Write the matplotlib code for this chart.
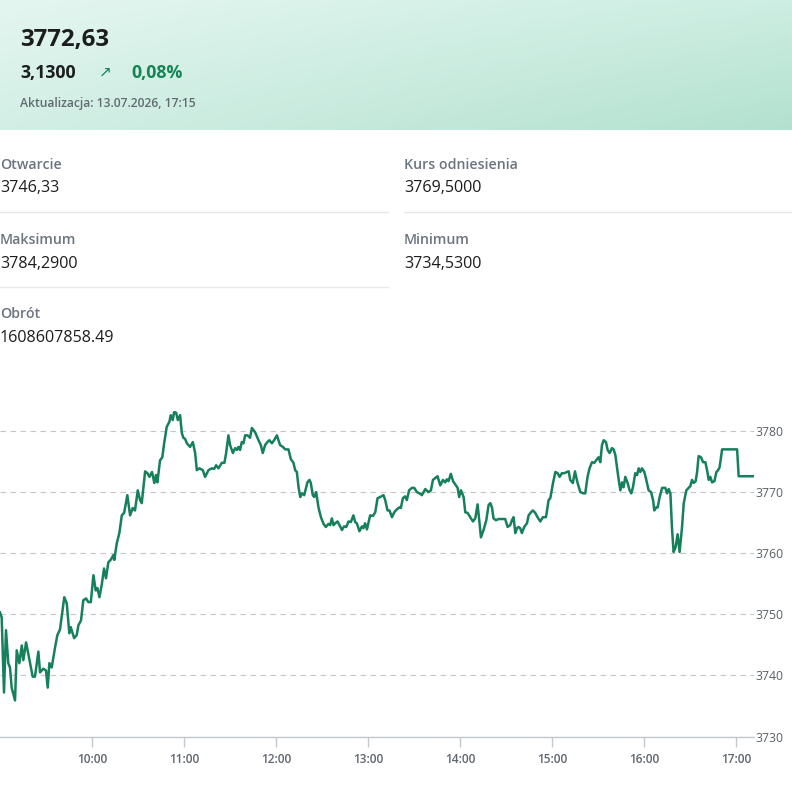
import numpy as np
import matplotlib
matplotlib.use("Agg")
import matplotlib.pyplot as plt
from matplotlib.colors import to_rgb

plt.rcParams['font.family'] = ['Open Sans', 'DejaVu Sans']

# --- data ---------------------------------------------------------------
last_price = "3772,63"
change_abs = "3,1300"
change_pct = "0,08%"
updated = "Aktualizacja: 13.07.2026, 17:15"

stat_labels = ["Otwarcie", "Kurs odniesienia", "Maksimum", "Minimum", "Obrót"]
stat_values = ["3746,33", "3769,5000", "3784,2900", "3734,5300", "1608607858.49"]

# minutes after 09:00
minutes = [
    0, 1.1, 2.6, 3.9, 5.4, 6.5, 7.6, 9.8, 10.9, 12.6, 14.2, 15.2, 17.0, 19.6,
    21.3, 22.8, 25.0, 26.1, 28.2, 30.0, 31.1, 32.2, 33.7, 35.9, 37.4, 39.1,
    41.9, 43.5, 45.2, 46.1, 48.3, 50.0, 51.1, 52.8, 54.3, 56.1, 57.6, 59.2,
    60.9, 62.4, 63.5, 64.8, 66.3, 67.8, 69.1, 70.6, 72.4, 73.9, 74.5, 76.1,
    77.8, 79.4, 80.9, 83.0, 84.8, 86.5, 88.0, 89.8, 91.3, 92.4, 94.6, 96.1,
    97.4, 99.1, 100.6, 101.7, 102.6, 104.3, 105.8, 107.0, 108.7, 110.4, 111.3,
    112.6, 113.5, 114.8, 115.9, 117.4, 118.5, 119.5, 120.7, 121.8, 122.8,
    123.9, 125.7, 127.2, 128.3, 130.0, 132.2, 133.7, 135.9, 138.1, 139.6,
    140.9, 142.4, 144.6, 146.3, 147.4, 148.9, 150.0, 151.8, 153.3, 154.4,
    155.4, 156.5, 157.6, 158.7, 159.8, 161.3, 163.0, 164.2, 166.3, 168.5,
    170.0, 171.3, 172.8, 174.3, 175.6, 177.2, 178.7, 180.5, 181.5, 182.6,
    184.4, 185.9, 188.0, 189.6, 191.3, 192.4, 193.5, 194.6, 195.7, 196.8,
    198.3, 199.6, 200.4, 201.7, 202.6, 203.9, 204.8, 206.1, 207.6, 209.2,
    210.9, 212.4, 214.1, 215.2, 216.3, 217.4, 218.5, 220.0, 221.3, 222.9,
    224.3, 225.7, 227.2, 228.7, 230.4, 231.5, 232.6, 234.3, 235.9, 236.9,
    238.0, 239.2, 241.3, 243.1, 244.6, 246.1, 247.8, 250.0, 251.1, 252.6,
    253.9, 255.5, 257.0, 258.7, 260.4, 261.3, 262.6, 264.1, 265.2, 266.7,
    268.5, 270.0, 271.8, 273.5, 275.0, 277.2, 279.3, 280.9, 282.2, 283.7,
    285.2, 287.0, 288.7, 290.2, 291.3, 292.4, 293.9, 295.3, 296.7, 298.3,
    299.3, 300.5, 302.2, 303.3, 304.8, 306.5, 308.3, 309.8, 311.3, 312.4,
    313.5, 315.2, 317.0, 318.5, 319.6, 320.7, 321.7, 323.3, 325.0, 327.2,
    329.3, 330.9, 332.6, 333.7, 334.8, 335.9, 337.0, 338.0, 339.1, 340.2,
    341.7, 343.5, 344.6, 346.1, 347.4, 348.9, 350.4, 352.2, 353.9, 355.9,
    357.6, 358.7, 360.5, 362.0, 363.5, 364.8, 366.3, 367.8, 369.6, 370.7,
    371.7, 373.4, 374.8, 376.5, 378.3, 380.4, 381.5, 383.0, 384.3, 385.9,
    387.4, 389.2, 390.2, 391.3, 392.4, 393.5, 395.0, 396.1, 397.4, 398.9,
    400.0, 401.1, 402.2, 403.3, 404.4, 405.5, 406.5, 407.6, 409.1, 410.4,
    411.5, 412.6, 414.1, 415.3, 416.3, 417.4, 418.5, 420.0, 421.3, 422.8,
    424.4, 425.7, 426.5, 427.8, 428.7, 430.0, 431.6, 433.7, 434.8, 435.9,
    437.0, 438.1, 439.1, 440.4, 441.7, 443.0, 444.6, 445.7, 447.4, 448.9,
    450.0, 451.1, 452.2, 453.5, 454.4, 455.4, 457.0, 458.3, 459.8, 460.9,
    462.0, 463.0, 464.2, 465.7, 467.0, 468.1, 469.1, 470.7, 480.5, 481.5,
    491.3,
]
prices = [
    3750.3, 3749.5, 3737.2, 3747.4, 3742.0, 3741.3, 3738.0, 3735.9, 3744.1,
    3742.0, 3744.9, 3742.5, 3745.4, 3742.0, 3739.8, 3739.8, 3743.9, 3740.5,
    3741.1, 3740.8, 3738.0, 3742.0, 3741.3, 3744.6, 3746.6, 3747.5, 3752.8,
    3751.8, 3746.9, 3747.9, 3746.1, 3746.6, 3748.2, 3749.0, 3752.3, 3752.6,
    3752.0, 3752.0, 3756.4, 3753.9, 3754.3, 3752.8, 3754.8, 3757.5, 3755.9,
    3758.5, 3759.0, 3759.7, 3758.9, 3761.6, 3763.3, 3766.2, 3766.6, 3769.5,
    3766.2, 3767.4, 3767.0, 3770.3, 3768.7, 3768.2, 3773.4, 3773.1, 3772.5,
    3773.3, 3771.5, 3772.8, 3771.6, 3775.2, 3775.7, 3778.0, 3780.7, 3781.5,
    3782.6, 3781.8, 3783.1, 3783.0, 3781.8, 3782.6, 3779.7, 3778.9, 3778.7,
    3778.0, 3777.7, 3777.4, 3778.2, 3776.4, 3773.6, 3773.9, 3773.6, 3772.5,
    3773.6, 3773.9, 3773.8, 3774.4, 3773.9, 3774.8, 3774.8, 3776.4, 3779.3,
    3777.7, 3776.4, 3777.2, 3776.9, 3777.4, 3776.9, 3778.2, 3778.0, 3779.3,
    3779.3, 3778.9, 3780.5, 3779.8, 3778.5, 3777.7, 3776.4, 3777.7, 3778.2,
    3778.5, 3778.0, 3778.5, 3779.3, 3778.5, 3777.7, 3777.4, 3777.0, 3777.0,
    3775.4, 3774.8, 3773.6, 3773.3, 3770.8, 3769.2, 3769.8, 3769.5, 3770.8,
    3771.6, 3772.0, 3771.5, 3769.5, 3769.2, 3770.0, 3767.5, 3765.9, 3764.8,
    3764.3, 3764.8, 3764.6, 3765.7, 3764.6, 3764.9, 3765.2, 3764.6, 3763.8,
    3764.4, 3764.3, 3765.2, 3765.1, 3766.2, 3765.1, 3764.9, 3763.6, 3764.4,
    3764.1, 3764.9, 3763.9, 3766.2, 3766.1, 3766.7, 3769.0, 3769.2, 3769.5,
    3768.7, 3767.0, 3767.0, 3765.9, 3766.7, 3767.2, 3767.5, 3767.4, 3769.0,
    3769.3, 3768.7, 3770.3, 3770.7, 3770.7, 3770.0, 3769.8, 3769.5, 3770.5,
    3770.0, 3770.3, 3772.0, 3772.3, 3772.6, 3771.1, 3772.0, 3771.6, 3772.1,
    3771.8, 3773.0, 3771.8, 3771.3, 3770.7, 3769.2, 3770.3, 3769.2, 3766.7,
    3766.6, 3765.9, 3765.2, 3765.7, 3768.0, 3765.4, 3762.6, 3763.8, 3765.4,
    3767.9, 3768.2, 3767.5, 3765.7, 3765.4, 3765.6, 3765.6, 3765.6, 3764.3,
    3764.6, 3765.4, 3765.9, 3763.3, 3764.1, 3764.3, 3764.1, 3763.3, 3764.3,
    3764.9, 3766.2, 3766.7, 3767.0, 3766.6, 3765.9, 3765.2, 3765.9, 3765.9,
    3768.7, 3769.0, 3771.5, 3773.3, 3773.1, 3772.5, 3773.1, 3773.1, 3773.3,
    3773.4, 3772.0, 3771.5, 3773.4, 3771.5, 3770.0, 3769.8, 3769.8, 3772.5,
    3773.9, 3774.9, 3774.8, 3775.4, 3775.7, 3774.9, 3777.7, 3778.5, 3778.2,
    3776.9, 3776.4, 3777.2, 3777.0, 3776.1, 3774.1, 3772.0, 3770.3, 3771.6,
    3770.8, 3772.5, 3771.5, 3770.3, 3769.8, 3770.8, 3773.1, 3772.8, 3773.9,
    3773.3, 3773.9, 3773.3, 3772.0, 3770.3, 3770.0, 3768.7, 3767.0, 3767.5,
    3767.5, 3769.2, 3770.7, 3770.7, 3769.8, 3770.5, 3769.8, 3763.8, 3760.2,
    3761.0, 3763.1, 3760.2, 3764.3, 3768.2, 3770.3, 3770.7, 3771.0, 3772.0,
    3771.5, 3771.8, 3773.3, 3775.9, 3775.7, 3774.9, 3774.9, 3773.6, 3772.0,
    3772.5, 3771.6, 3771.8, 3773.3, 3773.6, 3774.1, 3777.0, 3777.0, 3772.6,
    3772.6,
]

hour_ticks = [60, 120, 180, 240, 300, 360, 420, 480]
hour_labels = ["10:00", "11:00", "12:00", "13:00", "14:00", "15:00", "16:00", "17:00"]
price_ticks = [3730, 3740, 3750, 3760, 3770, 3780]

# --- figure -------------------------------------------------------------
W, H = 792, 790
fig = plt.figure(figsize=(W / 100, H / 100), dpi=100)
fig.patch.set_facecolor("white")


def fx(x):
    return x / W


def fy(y):
    return 1 - y / H


# header with soft mint gradient
ax_h = fig.add_axes([0, fy(130), 1, 130 / H])
gx, gy = np.meshgrid(np.linspace(0, 1, 300), np.linspace(0, 1, 60))
tl, tr = np.array(to_rgb("#e4f6f0")), np.array(to_rgb("#cdeee2"))
bl, br = np.array(to_rgb("#d3efe5")), np.array(to_rgb("#b3e1cf"))
img = ((1 - gx)[..., None] * ((1 - gy)[..., None] * tl + gy[..., None] * bl)
       + gx[..., None] * ((1 - gy)[..., None] * tr + gy[..., None] * br))
ax_h.imshow(img, aspect="auto", extent=[0, 1, 1, 0])
ax_h.set_axis_off()

dark = "#1b1d1f"
green = "#168556"
fig.text(fx(20), fy(46), last_price, fontsize=17.3, fontweight="bold", color=dark)
fig.text(fx(20), fy(78), change_abs, fontsize=12.8, fontweight="bold", color=dark)
fig.text(fx(99), fy(77), "↗", fontsize=11, color=green, family=["DejaVu Sans"])
fig.text(fx(131), fy(78), change_pct, fontsize=12.8, fontweight="bold", color=green)
fig.text(fx(20), fy(107), updated, fontsize=8.7, fontweight=600, color="#626a72")

# statistics grid
label_col = "#6b7480"
pos = [(0, 169), (404, 169), (0, 244), (404, 244), (0, 318)]
for (x, yb), lab, val in zip(pos, stat_labels, stat_values):
    fig.text(fx(x), fy(yb), lab, fontsize=10.2, fontweight=600, color=label_col)
    fig.text(fx(x), fy(yb + 23.5), val, fontsize=11.6, color=dark)

sep = "#e6e8eb"
for x0, x1, y in [(0, 388, 212), (404, 792, 212), (0, 388, 287)]:
    fig.add_artist(plt.Line2D([fx(x0), fx(x1)], [fy(y), fy(y)], color=sep, lw=1.0))

# price chart
ax = fig.add_axes([0, fy(736.5), fx(754), (736.5 - 400.5) / H])
ax.plot(minutes, prices, color="#16805a", lw=1.8, solid_joinstyle="round")
ax.set_xlim(0, 491.5)
ax.set_ylim(3730, 3785)
ax.set_yticks(price_ticks)
ax.yaxis.tick_right()
ax.tick_params(axis="y", length=0, pad=1, labelsize=8.8, labelcolor="#5a6068")
ax.set_xticks(hour_ticks)
ax.set_xticklabels(hour_labels)
ax.tick_params(axis="x", length=7, width=1, color="#c4c8cc", pad=5,
               labelsize=8.6, labelcolor="#5f6670")
for t in ax.get_xticklabels():
    t.set_fontweight(600)
ax.grid(axis="y", color="#c6c6c6", lw=0.8, ls=(0, (5, 4)))
for s in ["top", "left", "right"]:
    ax.spines[s].set_visible(False)
ax.spines["bottom"].set_color("#c4c8cc")
ax.spines["bottom"].set_linewidth(1.0)
ax.set_axisbelow(True)

fig.savefig("out.png", dpi=100, facecolor="white")
